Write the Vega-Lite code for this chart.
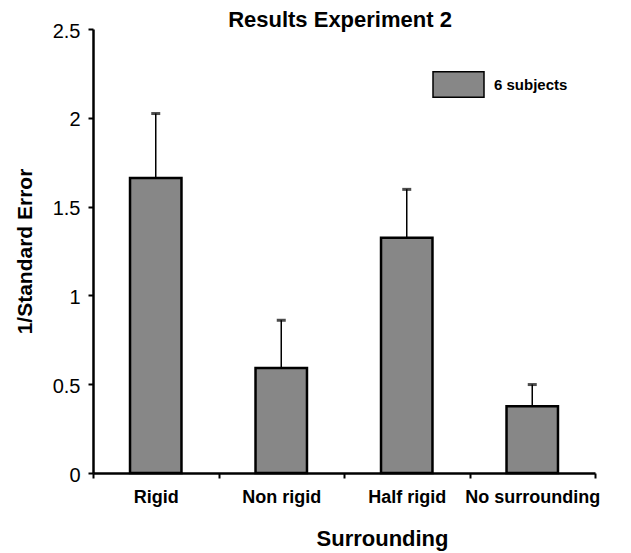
{
  "$schema": "https://vega.github.io/schema/vega-lite/v6.json",
  "width": 502,
  "height": 444,
  "autosize": {"type": "none"},
  "padding": {"left": 93, "top": 29, "right": 36, "bottom": 80},
  "background": "white",
  "title": {
    "text": "Results Experiment 2",
    "font": "Liberation Sans",
    "fontSize": 22,
    "fontWeight": "bold",
    "color": "black",
    "anchor": "middle",
    "baseline": "alphabetic",
    "offset": 2,
    "dx": -4,
    "dy": 30
  },
  "config": {
    "font": "Liberation Sans",
    "view": {"stroke": null}
  },
  "data": {
    "values": [
      {"Surrounding": "Rigid", "value": 1.661, "upper": 2.024, "series": "6 subjects"},
      {"Surrounding": "Non rigid", "value": 0.591, "upper": 0.86, "series": "6 subjects"},
      {"Surrounding": "Half rigid", "value": 1.325, "upper": 1.597, "series": "6 subjects"},
      {"Surrounding": "No surrounding", "value": 0.376, "upper": 0.498, "series": "6 subjects"}
    ]
  },
  "encoding": {
    "x": {
      "field": "Surrounding",
      "type": "nominal",
      "sort": null,
      "scale": {"paddingInner": 0, "paddingOuter": 0},
      "axis": {
        "title": "Surrounding",
        "titleFont": "Liberation Sans",
        "titleFontSize": 22,
        "titleFontWeight": "bold",
        "titleColor": "black",
        "titleX": 289,
        "titleY": 72,
        "titleAlign": "center",
        "titleBaseline": "alphabetic",
        "labelAngle": 0,
        "labelFont": "Liberation Sans",
        "labelFontSize": 18,
        "labelFontWeight": "bold",
        "labelColor": "black",
        "labelPadding": 10,
        "tickBand": "extent",
        "tickSize": 5,
        "tickWidth": 2,
        "tickColor": "black",
        "domainColor": "black",
        "domainWidth": 2.5,
        "grid": false
      }
    }
  },
  "layer": [
    {
      "mark": {"type": "bar", "width": {"band": 0.41}, "stroke": "black", "strokeWidth": 2.5},
      "encoding": {
        "y": {
          "field": "value",
          "type": "quantitative",
          "scale": {"domain": [0, 2.5], "nice": false},
          "axis": {
            "title": "1/Standard Error",
            "titleFont": "Liberation Sans",
            "titleFontSize": 21,
            "titleFontWeight": "bold",
            "titleColor": "black",
            "titleAngle": 270,
            "titleX": -68,
            "titleY": 222,
            "titleAlign": "center",
            "titleBaseline": "middle",
            "values": [0, 0.5, 1, 1.5, 2, 2.5],
            "format": "~g",
            "labelFont": "Liberation Sans",
            "labelFontSize": 20,
            "labelColor": "black",
            "labelPadding": 8,
            "labelOffset": 2,
            "tickSize": 5,
            "tickWidth": 2,
            "tickColor": "black",
            "domainColor": "black",
            "domainWidth": 2.5,
            "grid": false
          }
        },
        "color": {
          "field": "series",
          "type": "nominal",
          "scale": {"range": ["#878787"]},
          "legend": {
            "title": null,
            "orient": "none",
            "legendX": 339,
            "legendY": 29,
            "padding": 0,
            "symbolType": "M-1,-0.5H1V0.5H-1Z",
            "symbolSize": 2601,
            "symbolStrokeColor": "black",
            "symbolStrokeWidth": 1.5,
            "symbolOpacity": 1,
            "labelFont": "Liberation Sans",
            "labelFontSize": 15,
            "labelFontWeight": "bold",
            "labelColor": "black",
            "labelOffset": 9
          }
        }
      }
    },
    {
      "mark": {"type": "rule", "color": "black", "strokeWidth": 1.5},
      "encoding": {
        "y": {"field": "value", "type": "quantitative"},
        "y2": {"field": "upper"}
      }
    },
    {
      "mark": {"type": "tick", "color": "black", "size": 9, "thickness": 3},
      "encoding": {
        "y": {"field": "upper", "type": "quantitative"}
      }
    }
  ]
}
